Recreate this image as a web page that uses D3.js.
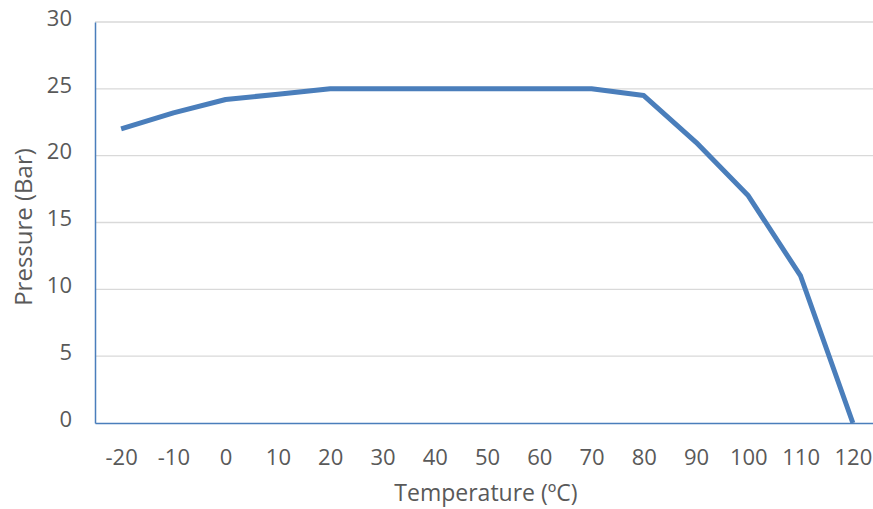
<!DOCTYPE html>
<html>
<head>
<meta charset="utf-8">
<script src="https://cdn.jsdelivr.net/npm/d3@7"></script>
<style>
  body { margin: 0; background: #fff; }
  text { font-family: "Open Sans", "Liberation Sans", sans-serif; fill: #595959; }
</style>
</head>
<body>
<div id="chart"></div>
<script>
// data
const temps = [-20, -10, 0, 10, 20, 30, 40, 50, 60, 70, 80, 90, 100, 110, 120];
const pressure = [22, 23.2, 24.2, 24.6, 25, 25, 25, 25, 25, 25, 24.5, 21, 17, 11, 0];
const yTicks = [0, 5, 10, 15, 20, 25, 30];

const W = 873, H = 509;
const plot = {left: 95, right: 879, top: 22, bottom: 423};

const svg = d3.select("#chart")
    .append("svg")
    .attr("width", W)
    .attr("height", H);

const x = d3.scalePoint()
    .domain(temps)
    .range([plot.left, plot.right])
    .padding(0.5);

const y = d3.scaleLinear()
    .domain([0, 30])
    .range([plot.bottom, plot.top]);

// gridlines
svg.append("g")
    .selectAll("line")
    .data(yTicks.filter(d => d > 0))
    .join("line")
    .attr("x1", plot.left)
    .attr("x2", plot.right)
    .attr("y1", d => y(d))
    .attr("y2", d => y(d))
    .attr("stroke", "#d9d9d9")
    .attr("stroke-width", 1.3);

// y axis
const yAxis = svg.append("g")
    .attr("transform", `translate(${plot.left},0)`)
    .call(d3.axisLeft(y).tickValues(yTicks).tickSize(0).tickPadding(23));
yAxis.select(".domain").attr("stroke", "#4a7ebb").attr("stroke-width", 1.5);
yAxis.selectAll("text")
    .style("font-size", "22px")
    .attr("dy", "0.15em")
    .attr("fill", "#595959");

// x axis
const xAxis = svg.append("g")
    .attr("transform", `translate(0,${plot.bottom})`)
    .call(d3.axisBottom(x).tickSize(0).tickPadding(26));
xAxis.select(".domain").attr("stroke", "#4a7ebb").attr("stroke-width", 1.5);
xAxis.selectAll("text").style("font-size", "22px").attr("fill", "#595959");

// line
const data = temps.map((t, i) => ({t: t, p: pressure[i]}));
svg.append("path")
    .datum(data)
    .attr("fill", "none")
    .attr("stroke", "#4a7ebb")
    .attr("stroke-width", 5)
    .attr("stroke-linejoin", "round")
    .attr("d", d3.line()
        .x(d => x(d.t))
        .y(d => y(d.p)));

// axis titles
svg.append("text")
    .attr("x", 486)
    .attr("y", 501)
    .attr("text-anchor", "middle")
    .style("font-size", "23px")
    .text("Temperature (ºC)");

svg.append("text")
    .attr("transform", "translate(32,227) rotate(-90)")
    .attr("text-anchor", "middle")
    .style("font-size", "24px")
    .text("Pressure (Bar)");
</script>
</body>
</html>
